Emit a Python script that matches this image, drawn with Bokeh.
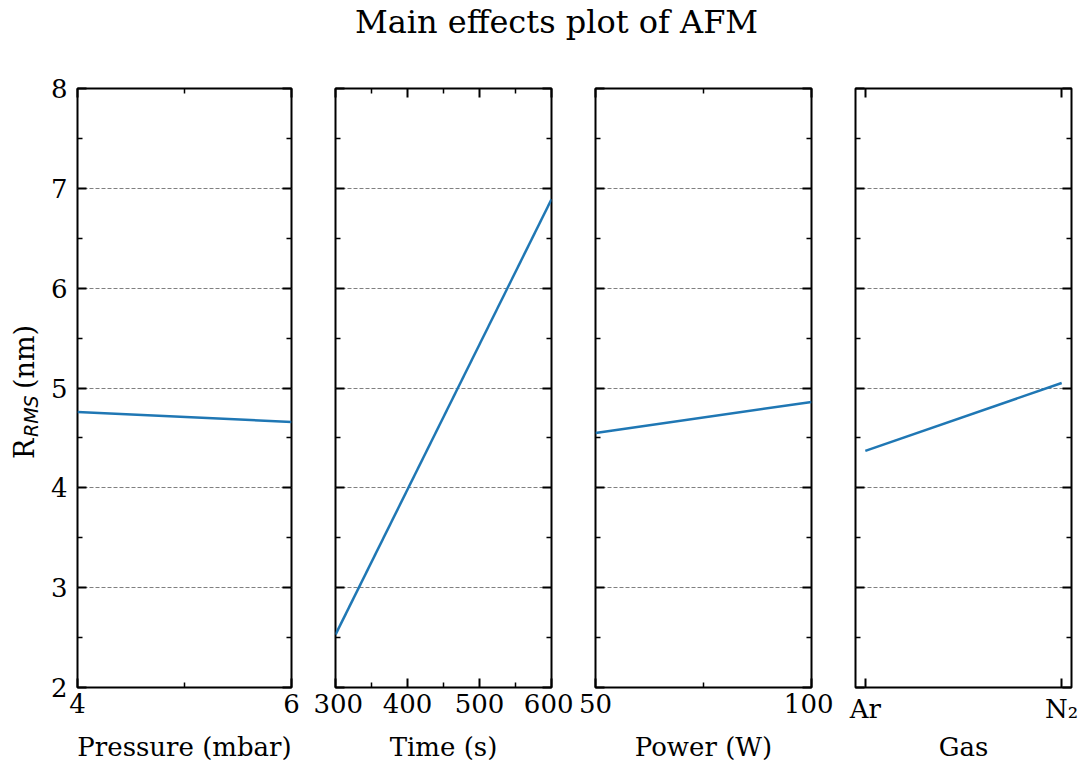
import numpy as np
from bokeh.plotting import figure
from bokeh.models import (Range1d, FixedTicker, LinearAxis, Div, Grid,
                          ColumnDataSource)
from bokeh.layouts import row, column
from bokeh.embed import file_html
from bokeh.resources import INLINE
from bokeh.core.properties import value

# ---------------- data ----------------
title_text = "Main effects plot of AFM"
x_labels = ["Pressure (mbar)", "Time (s)", "Power (W)", "Gas"]
y_label_parts = ["R", "RMS", "(nm)"]

pressure_levels = [4, 6]
pressure_means = [4.76, 4.66]
time_levels = [300, 600]
time_means = [2.53, 6.89]
power_levels = [50, 100]
power_means = [4.55, 4.86]
gas_levels = ["Ar", "N₂"]
gas_means = [4.37, 5.05]

pressure_ticks = [4, 6]
pressure_minor = [5]
time_ticks = [300, 400, 500, 600]
time_minor = [350, 450, 550]
power_ticks = [50, 100]
power_minor = [75]
y_ticks = [2, 3, 4, 5, 6, 7, 8]
y_minor = [2.5, 3.5, 4.5, 5.5, 6.5, 7.5]

SERIF = "DejaVu Serif"
FS = "26px"
LINE_COLOR = "#1f77b4"
FIG_H = 706
TOP_B = 30
FRAME_H = 599
BOT_B = FIG_H - TOP_B - FRAME_H

y_range = Range1d(y_ticks[0], y_ticks[-1])


def style_axis(ax, show_labels):
    ax.axis_line_color = None
    ax.major_tick_in = 9
    ax.major_tick_out = 0
    ax.minor_tick_in = 5
    ax.minor_tick_out = 0
    ax.major_tick_line_width = 2
    ax.minor_tick_line_width = 1.5
    ax.major_tick_line_color = "black"
    ax.minor_tick_line_color = "black"
    ax.major_label_text_font = SERIF
    ax.major_label_text_font_size = FS
    ax.major_label_text_line_height = 1.0
    ax.major_label_text_color = "black" if show_labels else None
    ax.axis_label_text_font = SERIF
    ax.axis_label_text_font_size = FS
    ax.axis_label_text_line_height = 1.0
    ax.axis_label_text_font_style = "normal"
    ax.axis_label_text_color = "black"


def make_panel(xs, ys, x_start, x_end, xticks, xminor, xlabel, left_border,
               right_border, show_y, label_gap, overrides=None):
    width = left_border + 216 + right_border
    p = figure(width=width, height=FIG_H,
               x_range=Range1d(x_start, x_end), y_range=y_range,
               x_axis_type=None, y_axis_type=None,
               output_backend="svg", toolbar_location=None)
    p.min_border_left = left_border
    p.min_border_right = right_border
    p.min_border_top = TOP_B
    p.min_border_bottom = BOT_B
    p.outline_line_color = "black"
    p.outline_line_width = 2
    p.outline_line_alpha = 1
    p.background_fill_color = "white"
    p.border_fill_color = "white"

    xt = FixedTicker(ticks=xticks, minor_ticks=xminor)
    yt = FixedTicker(ticks=y_ticks, minor_ticks=y_minor)

    bottom = LinearAxis(ticker=xt, axis_label=xlabel)
    style_axis(bottom, True)
    bottom.major_label_standoff = 6
    bottom.axis_label_standoff = label_gap
    if overrides:
        bottom.major_label_overrides = overrides
    p.add_layout(bottom, "below")

    top = LinearAxis(ticker=xt)
    style_axis(top, False)
    top.major_label_standoff = 0
    p.add_layout(top, "above")

    left = LinearAxis(ticker=yt)
    style_axis(left, show_y)
    left.major_label_standoff = 10 if show_y else 0
    p.add_layout(left, "left")

    right = LinearAxis(ticker=yt)
    style_axis(right, False)
    right.major_label_standoff = 0
    p.add_layout(right, "right")

    p.add_layout(Grid(dimension=1, ticker=FixedTicker(ticks=y_ticks[1:-1]),
                      grid_line_color="#808080", grid_line_width=1,
                      grid_line_dash="4 2"))

    src = ColumnDataSource(data=dict(x=xs, y=ys))
    p.line(x="x", y="y", source=src, line_color=LINE_COLOR, line_width=2.5)
    return p


# narrow strip holding the rotated y-axis label  R_RMS (nm)
YL_W = 47
ylab = figure(width=YL_W, height=FIG_H, x_range=Range1d(0, YL_W), y_range=y_range,
              x_axis_type=None, y_axis_type=None,
              output_backend="svg", toolbar_location=None)
ylab.min_border_left = 0
ylab.min_border_right = 0
ylab.min_border_top = TOP_B
ylab.min_border_bottom = BOT_B
ylab.outline_line_color = None
ylab.background_fill_color = "white"
ylab.border_fill_color = "white"
mid = (y_ticks[0] + y_ticks[-1]) / 2
ang = np.pi / 2
ylab.text(x=[24], y=[mid], text=[y_label_parts[0]], angle=ang,
          text_font=value(SERIF), text_font_size="27px", text_color="black",
          text_align="left", text_baseline="alphabetic", y_offset=71)
ylab.text(x=[24], y=[mid], text=[y_label_parts[1]], angle=ang,
          text_font=value("DejaVu Sans"), text_font_size="19px",
          text_font_style="italic", text_color="black",
          text_align="left", text_baseline="alphabetic", x_offset=6, y_offset=49)
ylab.text(x=[24], y=[mid], text=[y_label_parts[2]], angle=ang,
          text_font=value(SERIF), text_font_size="27px", text_color="black",
          text_align="left", text_baseline="alphabetic", y_offset=1)

p1 = make_panel(pressure_levels, pressure_means, pressure_levels[0], pressure_levels[-1],
                pressure_ticks, pressure_minor, x_labels[0], 75 - YL_W, 22, True, 16)
p2 = make_panel(time_levels, time_means, time_levels[0], time_levels[-1],
                time_ticks, time_minor, x_labels[1], 22, 22, False, 16)
p3 = make_panel(power_levels, power_means, power_levels[0], power_levels[-1],
                power_ticks, power_minor, x_labels[2], 22, 22, False, 16)
gas_pos = list(range(len(gas_levels)))
p4 = make_panel(gas_pos, gas_means, gas_pos[0] - 0.05, gas_pos[-1] + 0.05,
                gas_pos, [], x_labels[3], 22, 11, False, 5,
                overrides={i: g for i, g in enumerate(gas_levels)})

TOTAL_W = YL_W + (75 - YL_W + 216 + 22) + 260 + 260 + 249
title = Div(text=('<div style="width:%dpx;text-align:center;padding-left:31px;'
                  'box-sizing:border-box;font-family:\'DejaVu Serif\';font-size:32px;'
                  'line-height:32px;color:black;margin-top:6px;">' % TOTAL_W)
            + title_text + '</div>',
            width=TOTAL_W, height=58, margin=(0, 0, 0, 0))

layout = column(title, row(ylab, p1, p2, p3, p4, spacing=0), spacing=0)

with open("out.html", "w") as f:
    f.write(file_html(layout, INLINE))
